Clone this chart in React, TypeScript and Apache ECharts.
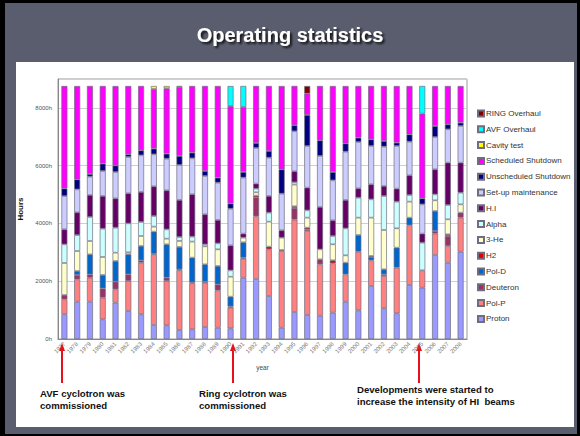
import React, { useEffect, useRef } from 'react';
import * as echarts from 'echarts';

// Operating hours per year, broken down by beam / activity (hours)
const years = [
  '1977', '1978', '1979', '1980', '1981', '1982', '1983', '1984',
  '1985', '1986', '1987', '1988', '1989', '1990', '1991', '1992',
  '1993', '1994', '1995', '1996', '1997', '1998', '1999', '2000',
  '2001', '2002', '2003', '2004', '2005', '2006', '2007', '2008',
];

const proton = [854, 1292, 1292, 681, 1258, 969, 854, 485, 473, 312, 335, 415, 392, 369, 2123, 2077, 1489, 392, 935, 831, 808, 912, 1292, 992, 1835, 1062, 889, 1869, 1777, 2908, 2643, 3023];
const polP = [519, 773, 831, 750, 462, 1039, 1789, 2446, 1535, 2066, 1593, 1535, 1292, 715, 658, 2170, 1616, 2654, 3197, 2908, 1777, 1708, 946, 2031, 889, 1119, 1581, 2066, 600, 739, 577, 1177];
const deuteron = [150, 150, 115, 323, 265, 231, 81, 23, 115, 35, 35, 35, 208, 46, 35, 658, 0, 35, 404, 58, 173, 0, 0, 0, 0, 58, 0, 0, 0, 92, 346, 173];
const polD = [0, 138, 692, 462, 715, 692, 496, 762, 1154, 773, 854, 600, 635, 335, 531, 0, 0, 0, 0, 0, 0, 0, 404, 577, 115, 173, 692, 265, 0, 692, 0, 0];
const h2 = [0, 0, 0, 0, 0, 0, 0, 0, 0, 0, 0, 0, 0, 0, 0, 58, 92, 0, 58, 58, 0, 104, 0, 0, 35, 0, 0, 0, 0, 0, 58, 0];
const he3 = [1108, 692, 462, 623, 288, 69, 346, 173, 196, 208, 554, 623, 577, 692, 162, 115, 865, 427, 750, 346, 346, 554, 254, 600, 1327, 1362, 669, 554, 0, 369, 519, 288];
const alpha = [646, 554, 831, 981, 865, 1004, 485, 369, 323, 138, 173, 69, 208, 219, 0, 127, 312, 0, 81, 254, 0, 288, 935, 692, 635, 1177, 923, 231, 958, 208, 496, 404];
const heavyIon = [519, 785, 762, 1131, 1015, 1039, 1039, 1027, 1350, 1281, 1466, 1039, 808, 865, 138, 173, 577, 254, 381, 785, 1466, 542, 981, 323, 519, 346, 450, 681, 312, 865, 1466, 1039];
const setupMaintenance = [1154, 796, 635, 865, 912, 1258, 1269, 1108, 1096, 1212, 1246, 1327, 1292, 1269, 1939, 1235, 1327, 1269, 1385, 1442, 1766, 1385, 1673, 1604, 1327, 1362, 1477, 1165, 1015, 1119, 1154, 1269];
const unscheduledShutdown = [265, 346, 92, 254, 231, 92, 173, 196, 173, 312, 196, 173, 173, 185, 196, 173, 231, 842, 208, 1073, 542, 288, 288, 150, 231, 196, 115, 254, 208, 381, 173, 115];
const scheduledShutdown = [3543, 3231, 3047, 2689, 2746, 2366, 2227, 2066, 2262, 2389, 2308, 2943, 3174, 3370, 2250, 1973, 2250, 2885, 1362, 738, 1881, 2977, 1985, 1789, 1846, 1904, 1962, 1673, 2931, 1385, 1327, 1269];
const cavityTest = [0, 0, 0, 0, 0, 0, 0, 104, 81, 35, 0, 0, 0, 0, 0, 0, 0, 0, 0, 0, 0, 0, 0, 0, 0, 0, 0, 0, 0, 0, 0, 0];
const avfOverhaul = [0, 0, 0, 0, 0, 0, 0, 0, 0, 0, 0, 0, 0, 692, 727, 0, 0, 0, 0, 0, 0, 0, 0, 0, 0, 0, 0, 0, 958, 0, 0, 0];
const ringOverhaul = [0, 0, 0, 0, 0, 0, 0, 0, 0, 0, 0, 0, 0, 0, 0, 0, 0, 0, 0, 265, 0, 0, 0, 0, 0, 0, 0, 0, 0, 0, 0, 0];

const yTicks = [0, 2000, 4000, 6000, 8000];

// stacking order, bottom to top
const layers = [
  { name: 'Proton', data: proton, color: '#9999FF' },
  { name: 'Pol-P', data: polP, color: '#FF8080' },
  { name: 'Deuteron', data: deuteron, color: '#993366' },
  { name: 'Pol-D', data: polD, color: '#0066CC' },
  { name: 'H2', data: h2, color: '#E00000' },
  { name: '3-He', data: he3, color: '#FFFFCC' },
  { name: 'Alpha', data: alpha, color: '#CCFFFF' },
  { name: 'H.I', data: heavyIon, color: '#660066' },
  { name: 'Set-up maintenance', data: setupMaintenance, color: '#CCCCFF' },
  { name: 'Unscheduled Shutdown', data: unscheduledShutdown, color: '#000080' },
  { name: 'Scheduled Shutdown', data: scheduledShutdown, color: '#FF00FF' },
  { name: 'Cavity test', data: cavityTest, color: '#FFFF00' },
  { name: 'AVF Overhaul', data: avfOverhaul, color: '#00FFFF' },
  { name: 'RING Overhaul', data: ringOverhaul, color: '#800000' },
];

const FONT = '"Liberation Sans", Arial, sans-serif';

function arrow(x: number) {
  return [
    { type: 'line', shape: { x1: x, y1: 383, x2: x, y2: 350 }, style: { stroke: '#E8101A', lineWidth: 2 } },
    { type: 'polygon', shape: { points: [[x - 3, 351], [x + 3, 351], [x, 343]] }, style: { fill: '#E8101A' } },
  ];
}

function note(x: number, y: number, text: string) {
  return {
    type: 'text',
    x,
    y,
    style: { text, fill: '#111', font: `bold 9.6px ${FONT}`, lineHeight: 11.5 },
  };
}

export default function App() {
  const ref = useRef<HTMLDivElement>(null);

  useEffect(() => {
    const chart = echarts.init(ref.current!, null, { renderer: 'svg' });
    chart.setOption({
      animation: false,
      textStyle: { fontFamily: FONT },
      title: {
        text: 'Operating statistics',
        left: 'center',
        top: 20,
        textStyle: {
          color: '#fff',
          fontSize: 20,
          fontWeight: 'bold',
          fontFamily: FONT,
          textShadowColor: 'rgba(0,0,0,0.8)',
          textShadowBlur: 2,
          textShadowOffsetX: 2,
          textShadowOffsetY: 2,
        },
      },
      legend: {
        orient: 'vertical',
        left: 472,
        top: 104,
        itemWidth: 6,
        itemHeight: 6,
        itemGap: 6.8,
        icon: 'rect',
        selectedMode: false,
        data: layers.map((l) => l.name).reverse(),
        textStyle: { fontSize: 8, color: '#333', lineHeight: 9, padding: [0, 0, 0, -3] },
      },
      grid: {
        left: 58,
        right: 113,
        top: 79,
        bottom: 97,
        show: true,
        borderColor: '#9a9a9a',
        borderWidth: 1,
      },
      xAxis: {
        type: 'category',
        data: years,
        axisLine: { lineStyle: { color: '#888' } },
        axisTick: { show: false },
        axisLabel: { rotate: 45, interval: 0, fontSize: 6, color: '#777', margin: 4 },
        name: 'year',
        nameLocation: 'middle',
        nameGap: 25,
        nameTextStyle: { fontSize: 6.5, color: '#444' },
      },
      yAxis: {
        type: 'value',
        min: 0,
        max: 9000,
        interval: 2000,
        axisLine: { show: true, lineStyle: { color: '#888' } },
        axisTick: { show: false },
        axisLabel: {
          fontSize: 6,
          color: '#555',
          margin: 6,
          formatter: (v: number) => (yTicks.includes(v) ? `${v}h` : ''),
        },
        splitLine: { lineStyle: { color: '#cfcfcf', width: 1 } },
        name: 'Hours',
        nameLocation: 'middle',
        nameRotate: 90,
        nameGap: 31,
        nameTextStyle: { fontSize: 8, fontWeight: 'bold', color: '#111' },
      },
      series: layers.map((l) => ({
        name: l.name,
        type: 'bar',
        stack: 'hours',
        barWidth: 6,
        itemStyle: { color: l.color, borderColor: '#6e6e80', borderWidth: 0.7 },
        data: l.data.map((v) => (v > 0 ? v : '-')),
      })),
      graphic: [
        ...arrow(62),
        ...arrow(233),
        ...arrow(419),
        note(40, 388, 'AVF cyclotron was\ncommissioned'),
        note(199, 388, 'Ring cyclotron was\ncommissioned'),
        note(357, 384, 'Developments were started to\nincrease the intensity of HI  beams'),
      ],
    });
    return () => chart.dispose();
  }, []);

  return (
    <div style={{ position: 'fixed', left: 0, top: 0, width: 580, height: 436, background: '#000', overflow: 'hidden' }}>
      <div style={{ position: 'absolute', left: 5, top: 3, width: 572, height: 431, background: '#5a5d6d' }} />
      <div style={{ position: 'absolute', left: 16, top: 62, width: 558, height: 365, background: '#fff' }} />
      <div ref={ref} style={{ position: 'absolute', left: 0, top: 0, width: 580, height: 436 }} />
    </div>
  );
}
